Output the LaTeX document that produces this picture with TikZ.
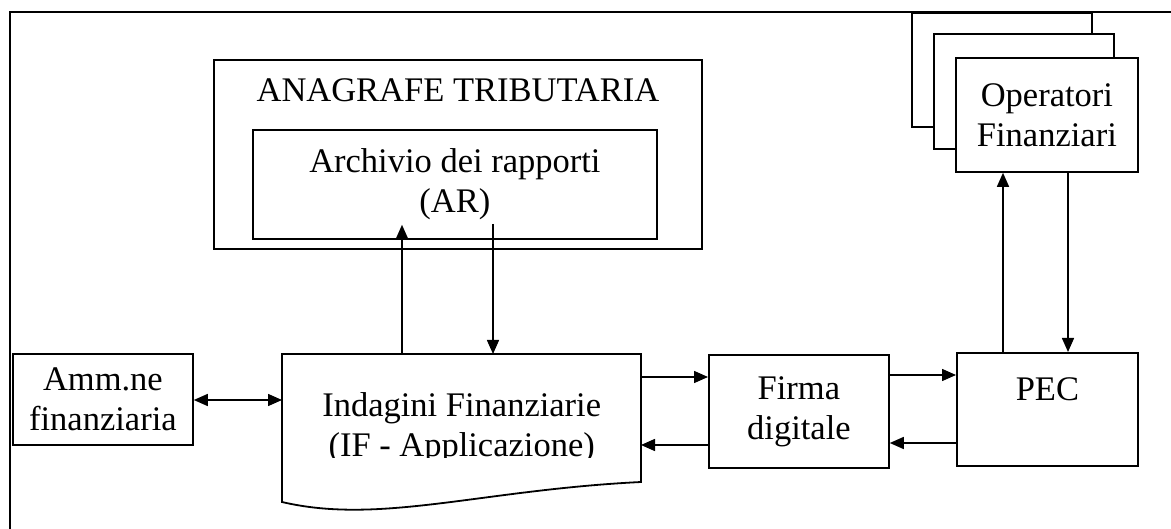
\documentclass[tikz,border=0pt]{standalone}
\usepackage{fontspec}
\setmainfont{Liberation Serif}
\usetikzlibrary{arrows.meta,calc}
\begin{document}
\begin{tikzpicture}[x=1pt,y=-1pt,
  txt/.style={font=\fontsize{34.5}{40}\selectfont},
  box/.style={draw, line width=1.8pt, fill=white, inner sep=0pt, align=center, anchor=north west, txt},
  tip/.tip={Triangle[length=14pt,width=12pt]},
  arr/.style={line width=1.5pt, -tip},
  darr/.style={line width=1.5pt, tip-tip}]
\useasboundingbox (0,0) rectangle (1171,529);
% outer frame (cropped)
\draw[line width=1.8pt] (1171,12) -- (10,12) -- (10,529);

% Anagrafe tributaria
\node[box, minimum width=488, minimum height=189,
  label={[txt, anchor=base, yshift=-42.7pt]north:ANAGRAFE TRIBUTARIA}] (at) at (213,59) {};
\node[box, minimum width=404, minimum height=109] (ar) at (252,129) {Archivio dei rapporti\\(AR)};

% Operatori finanziari (stack)
\node[box, minimum width=180, minimum height=114] (op3) at (911,12) {};
\node[box, minimum width=180, minimum height=115] (op2) at (933,33) {};
\node[box, minimum width=182, minimum height=114] (op) at (955,57) {Operatori\\Finanziari};

% Amm.ne finanziaria
\node[box, minimum width=180, minimum height=91, yshift=0pt] (amm) at (12,353) {Amm.ne\\finanziaria};

% Indagini finanziarie (document shape)
\draw[line width=1.8pt, fill=white] (282,354) -- (641,354) -- (641,482)
  .. controls (480,490) and (380,525) .. (282,502) -- cycle;
\begin{scope}
  \clip (282,354) rectangle (641,457.5);
  \node[inner sep=0pt, align=center, anchor=north west, txt, minimum width=359, minimum height=142, yshift=-3pt] (if) at (282,354)
    {Indagini Finanziarie\\(IF - Applicazione)};
\end{scope}
\coordinate (ifn) at (282,354);
\coordinate (ife) at (641,354);

% Firma digitale and PEC
\node[box, minimum width=180, minimum height=113] (fd) at (708,354) {Firma\\digitale};
\node[box, minimum width=181, minimum height=113] (pec) at (956,352) {PEC\\\mbox{}};

% connectors
\coordinate (u1) at (402,0);
\coordinate (u2) at (493,0);
\draw[arr, shorten >=-15pt] (u1 |- ifn) -- (u1 |- ar.south);
\draw[arr, shorten <=-16pt] (u2 |- ar.south) -- (u2 |- ifn);

\coordinate (h1) at (0,400);
\draw[darr] (amm.east |- h1) -- (ifn |- h1);

\coordinate (h2) at (0,377);
\coordinate (h3) at (0,445);
\draw[arr] (ife |- h2) -- (fd.west |- h2);
\draw[arr] (fd.west |- h3) -- (ife |- h3);

\coordinate (h4) at (0,375);
\coordinate (h5) at (0,443);
\draw[arr] (fd.east |- h4) -- (pec.west |- h4);
\draw[arr] (pec.west |- h5) -- (fd.east |- h5);

\coordinate (v1) at (1003,0);
\coordinate (v2) at (1068,0);
\draw[arr] (v1 |- pec.north) -- (v1 |- op.south);
\draw[arr] (v2 |- op.south) -- (v2 |- pec.north);
\end{tikzpicture}
\end{document}
